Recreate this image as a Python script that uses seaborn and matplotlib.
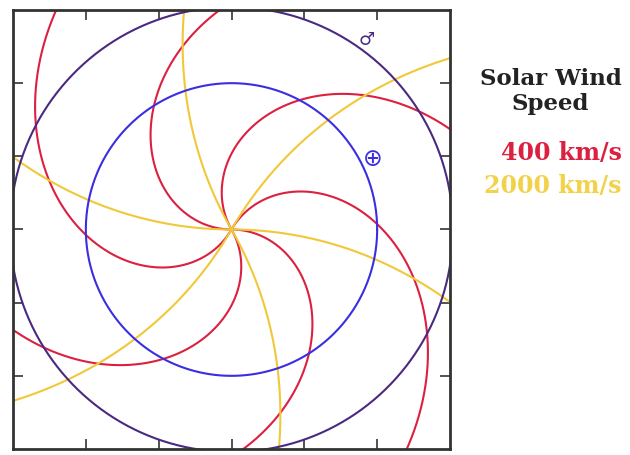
import numpy as np
import pandas as pd
import matplotlib
matplotlib.use("Agg")
import matplotlib.pyplot as plt
import seaborn as sns

# ---- data ----
wind_speeds = [400, 2000]                 # km/s
wind_colors = ["#dc2040", "#f0c838"]
wind_text_colors = ["#dc2040", "#f2d24a"]
wind_labels = ["400 km/s", "2000 km/s"]
arm_start_deg = [0, 60, 120, 180, 240, 300]
planet_names = ["Earth", "Mars"]
planet_radii = [1.0, 1.52]                # AU
planet_colors = ["#3a2ee0", "#4a2a80"]
planet_symbols = ["\u2295", "\u2642"]
symbol_pos = [(0.97, 0.49), (0.93, 1.30)]
tick_vals = [-1.0, -0.5, 0.0, 0.5, 1.0]

omega = 2.7e-6          # rad/s, solar rotation
au_km = 1.496e8

sns.set_theme(style="white")
fig = plt.figure(figsize=(6.3, 4.56), dpi=100)
ax = fig.add_axes([13 / 630, 1 - 450 / 456, 437 / 630, 439 / 456])

r = np.linspace(0, 2.5, 600)
for v, col in zip(wind_speeds, wind_colors):
    k = omega * au_km / v
    for a0 in arm_start_deg:
        phi = np.deg2rad(a0) - k * r
        df = pd.DataFrame({"x": r * np.cos(phi), "y": r * np.sin(phi)})
        sns.lineplot(data=df, x="x", y="y", sort=False, estimator=None,
                     color=col, lw=1.5, ax=ax)

th = np.linspace(0, 2 * np.pi, 721)
for rad, col in zip(planet_radii, planet_colors):
    df = pd.DataFrame({"x": rad * np.cos(th), "y": rad * np.sin(th)})
    sns.lineplot(data=df, x="x", y="y", sort=False, estimator=None,
                 color=col, lw=1.5, ax=ax)

for sym, (px, py), col, fs in zip(planet_symbols, symbol_pos, planet_colors, [17, 13]):
    ax.text(px, py, sym, color=col, fontsize=fs, ha="center", va="center",
            family="DejaVu Sans")

lim = 1.5
ax.set_xlim(-lim, lim)
ax.set_ylim(-lim, lim)
ax.set_xticks(tick_vals)
ax.set_yticks(tick_vals)
ax.set_xticklabels([])
ax.set_yticklabels([])
ax.set_xlabel("")
ax.set_ylabel("")
ax.tick_params(direction="in", length=7, width=1.2, top=True, right=True,
               bottom=True, left=True, color="#333333")
for s in ax.spines.values():
    s.set_color("#333333")
    s.set_linewidth(2)

fkw = dict(family="DejaVu Serif", fontweight="bold", fontsize=16.5,
           va="baseline")
fig.text(551 / 630, 1 - 85 / 456, "Solar Wind", color="#222222", ha="center", **fkw)
fig.text(550 / 630, 1 - 110 / 456, "Speed", color="#222222", ha="center", **fkw)
fkw["fontsize"] = 17
fig.text(622 / 630, 1 - 160 / 456, wind_labels[0], color=wind_text_colors[0],
         ha="right", **fkw)
fig.text(622 / 630, 1 - 193 / 456, wind_labels[1], color=wind_text_colors[1],
         ha="right", **fkw)

fig.savefig("out.png", dpi=100)
